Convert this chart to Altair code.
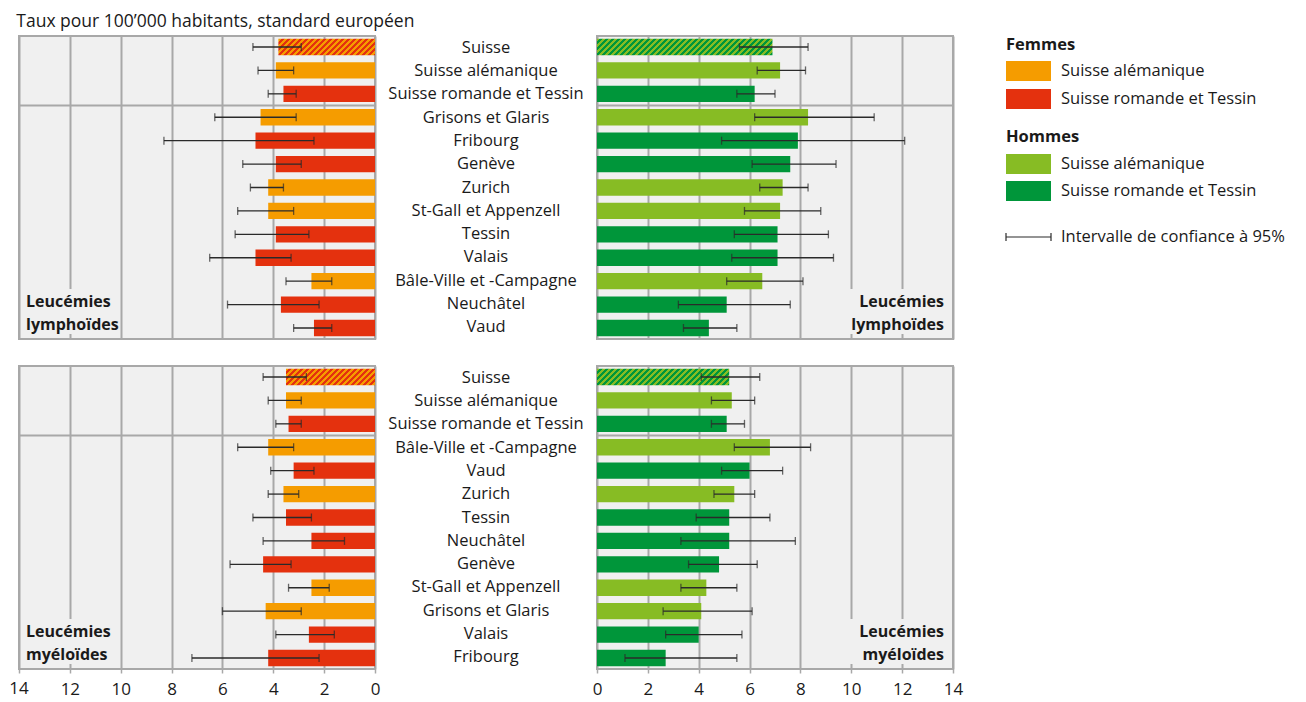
import math
import altair as alt
import pandas as pd

# ---------------- data ----------------
regions_lym = ["Suisse", "Suisse alémanique", "Suisse romande et Tessin", "Grisons et Glaris",
               "Fribourg", "Genève", "Zurich", "St-Gall et Appenzell", "Tessin", "Valais",
               "Bâle-Ville et -Campagne", "Neuchâtel", "Vaud"]
groups_lym = ["CH", "SA", "SRT", "SA", "SRT", "SRT", "SA", "SA", "SRT", "SRT", "SA", "SRT", "SRT"]
lym_f = [3.8, 3.9, 3.6, 4.5, 4.7, 3.9, 4.2, 4.2, 3.9, 4.7, 2.5, 3.7, 2.4]
lym_f_lo = [2.9, 3.2, 3.1, 3.1, 2.4, 2.9, 3.6, 3.2, 2.6, 3.3, 1.7, 2.2, 1.7]
lym_f_hi = [4.8, 4.6, 4.2, 6.3, 8.3, 5.2, 4.9, 5.4, 5.5, 6.5, 3.5, 5.8, 3.2]
lym_m = [6.9, 7.2, 6.2, 8.3, 7.9, 7.6, 7.3, 7.2, 7.1, 7.1, 6.5, 5.1, 4.4]
lym_m_lo = [5.6, 6.3, 5.5, 6.2, 4.9, 6.1, 6.4, 5.8, 5.4, 5.3, 5.1, 3.2, 3.4]
lym_m_hi = [8.3, 8.2, 7.0, 10.9, 12.1, 9.4, 8.3, 8.8, 9.1, 9.3, 8.1, 7.6, 5.5]

regions_mye = ["Suisse", "Suisse alémanique", "Suisse romande et Tessin", "Bâle-Ville et -Campagne",
               "Vaud", "Zurich", "Tessin", "Neuchâtel", "Genève", "St-Gall et Appenzell",
               "Grisons et Glaris", "Valais", "Fribourg"]
groups_mye = ["CH", "SA", "SRT", "SA", "SRT", "SA", "SRT", "SRT", "SRT", "SA", "SA", "SRT", "SRT"]
mye_f = [3.5, 3.5, 3.4, 4.2, 3.2, 3.6, 3.5, 2.5, 4.4, 2.5, 4.3, 2.6, 4.2]
mye_f_lo = [2.7, 2.9, 2.9, 3.2, 2.4, 3.0, 2.5, 1.2, 3.3, 1.8, 2.9, 1.6, 2.2]
mye_f_hi = [4.4, 4.2, 3.9, 5.4, 4.1, 4.2, 4.8, 4.4, 5.7, 3.4, 6.0, 3.9, 7.2]
mye_m = [5.2, 5.3, 5.1, 6.8, 6.0, 5.4, 5.2, 5.2, 4.8, 4.3, 4.1, 4.0, 2.7]
mye_m_lo = [4.1, 4.5, 4.5, 5.4, 4.9, 4.6, 3.9, 3.3, 3.6, 3.3, 2.6, 2.7, 1.1]
mye_m_hi = [6.4, 6.2, 5.8, 8.4, 7.3, 6.2, 6.8, 7.8, 6.3, 5.5, 6.1, 5.7, 5.5]

legend_groups = ["Suisse alémanique", "Suisse romande et Tessin"]
tick_values = [0, 2, 4, 6, 8, 10, 12, 14]

# ---------------- styles ----------------
FONT = "Open Sans"
ORANGE, RED = "#F59C00", "#E4310E"
LGREEN, DGREEN = "#87BC24", "#00963A"
BG, GRID = "#F0F0F0", "#A8A8A8"
TXT = "#1a1a1a"
EB = "#2a2a2a"
FS = 16.5
AFS = 17
PW, PH, MIDW = 356, 303, 222
PI, PO = 0.3, 0.12
STEP = PH / (13 - PI + 2 * PO)
BAR_H = STEP * (1 - PI)


def stripes(value, c1, c2, period=6.0):
    w = value * PW / 14.0
    h = BAR_H
    L = w + h
    half = period / 2.0
    n = int(math.ceil(L / half))
    stops = []
    for i in range(n):
        c = c1 if i % 2 == 0 else c2
        stops.append({"offset": min(i * half / L, 1.0), "color": c})
        stops.append({"offset": min((i + 1) * half / L, 1.0), "color": c})
    den = w * w + h * h
    return {"gradient": "linear", "x1": 0, "y1": 0,
            "x2": L * w / den, "y2": L * h / den, "stops": stops}


def panel(regions, groups, val, lo, hi, side, colors, label, bottom):
    df = pd.DataFrame({"region": regions, "group": groups, "value": val, "lo": lo, "hi": hi})
    xscale = alt.Scale(domain=[0, 14], reverse=(side == "left"), nice=False)
    if bottom:
        # the outermost label ("14" of the left panel) is drawn as a text mark below
        lab_expr = "datum.value == 14 ? '' : datum.label" if side == "left" else "datum.label"
        axis = alt.Axis(values=tick_values, grid=True, gridColor=GRID, gridWidth=2, domain=False,
                        ticks=True, tickColor=GRID, tickSize=4, tickWidth=1.5,
                        labelFont=FONT, labelFontSize=AFS, labelColor=TXT, labelPadding=8,
                        labelFlush=False, labelExpr=lab_expr, title=None)
    else:
        axis = alt.Axis(values=tick_values, grid=True, gridColor=GRID, gridWidth=2, domain=False,
                        ticks=False, labels=False, title=None)
    y = alt.Y("region:N", sort=regions, axis=None,
              scale=alt.Scale(paddingInner=PI, paddingOuter=PO))
    base = alt.Chart(df)
    bars = base.transform_filter("datum.group != 'CH'").mark_bar().encode(
        x=alt.X("value:Q", scale=xscale, axis=axis), y=y,
        color=alt.Color("group:N", scale=alt.Scale(domain=["SA", "SRT"], range=colors), legend=None))
    hatch = base.transform_filter("datum.group == 'CH'").mark_bar(
        fill=stripes(val[0], colors[0], colors[1])).encode(x=alt.X("value:Q"), y=y)
    err = base.mark_rule(color=EB, strokeWidth=1.3).encode(x="lo:Q", x2="hi:Q", y=y)
    cap_lo = base.mark_tick(color=EB, thickness=1.3, size=8).encode(x="lo:Q", y=y)
    cap_hi = base.mark_tick(color=EB, thickness=1.3, size=8).encode(x="hi:Q", y=y)
    one = pd.DataFrame({"a": [0]})
    sep = alt.Chart(one).mark_rule(color=GRID, strokeWidth=2).encode(
        x=alt.value(0), x2=alt.value(PW), y=alt.value(STEP * (PO + 3) - STEP * PI / 2))
    layers = [sep]
    if side == "left":
        box = alt.Chart(one).mark_rect(color=BG).encode(
            x=alt.value(2), x2=alt.value(100), y=alt.value(253), y2=alt.value(PH - 5))
        txt = alt.Chart(one).mark_text(text=label, align="left", baseline="alphabetic",
                                       font=FONT, fontSize=16, fontWeight="bold", color=TXT,
                                       lineHeight=23).encode(x=alt.value(7), y=alt.value(271))
    else:
        box = alt.Chart(one).mark_rect(color=BG).encode(
            x=alt.value(244), x2=alt.value(PW - 2), y=alt.value(253), y2=alt.value(PH - 5))
        txt = alt.Chart(one).mark_text(text=label, align="right", baseline="alphabetic",
                                       font=FONT, fontSize=16, fontWeight="bold", color=TXT,
                                       lineHeight=23).encode(x=alt.value(PW - 9), y=alt.value(271))
    layers += [box, bars, hatch, err, cap_lo, cap_hi, txt]
    if bottom and side == "left":
        edge = alt.Chart(pd.DataFrame({"v": [tick_values[-1]]})).mark_text(
            font=FONT, fontSize=AFS, color=TXT, align="center", baseline="top").encode(
            x=alt.X("v:Q"), y=alt.value(PH + 12), text=alt.Text("v:Q"))
        layers.append(edge)
    return alt.layer(*layers).properties(
        width=PW, height=PH,
        view=alt.ViewBackground(fill=BG, stroke=GRID, strokeWidth=2))


def middle(regions):
    df = pd.DataFrame({"region": regions})
    return alt.Chart(df).mark_text(font=FONT, fontSize=FS, color=TXT, align="center").encode(
        y=alt.Y("region:N", sort=regions, axis=None,
                scale=alt.Scale(paddingInner=PI, paddingOuter=PO)),
        x=alt.value(MIDW / 2), text="region:N").properties(
        width=MIDW, height=PH, view=alt.ViewBackground(fill="transparent", stroke="transparent"))


F_COLS = [ORANGE, RED]
M_COLS = [LGREEN, DGREEN]
lab_l = ["Leucémies", "lymphoïdes"]
lab_m = ["Leucémies", "myéloïdes"]

# ---------------- legend ----------------
one = pd.DataFrame({"a": [0]})
LX, TX = 53, 108
leg_layers = []


def ltext(t, y, bold=False, x=TX):
    return alt.Chart(one).mark_text(text=t, align="left", baseline="middle", font=FONT, fontSize=FS,
                                    fontWeight="bold" if bold else "normal", color=TXT).encode(
        x=alt.value(x), y=alt.value(y))


def lrect(c, y):
    return alt.Chart(one).mark_rect(color=c).encode(
        x=alt.value(LX), x2=alt.value(LX + 45), y=alt.value(y - 10), y2=alt.value(y + 10))


leg_layers.append(ltext("Femmes", 9, True, LX))
leg_layers.append(lrect(ORANGE, 35))
leg_layers.append(ltext(legend_groups[0], 35))
leg_layers.append(lrect(RED, 63))
leg_layers.append(ltext(legend_groups[1], 63))
leg_layers.append(ltext("Hommes", 101, True, LX))
leg_layers.append(lrect(LGREEN, 128))
leg_layers.append(ltext(legend_groups[0], 128))
leg_layers.append(lrect(DGREEN, 155))
leg_layers.append(ltext(legend_groups[1], 155))
leg_layers.append(alt.Chart(one).mark_rule(color=EB, strokeWidth=1.2).encode(
    x=alt.value(LX), x2=alt.value(LX + 45), y=alt.value(201)))
for cx in (LX, LX + 45):
    leg_layers.append(alt.Chart(one).mark_rule(color=EB, strokeWidth=1.2).encode(
        x=alt.value(cx), y=alt.value(197), y2=alt.value(205)))
leg_layers.append(ltext("Intervalle de confiance à 95%", 201))
legend = alt.layer(*leg_layers).properties(
    width=330, height=PH, view=alt.ViewBackground(fill="transparent", stroke="transparent"))

chart = alt.concat(
    panel(regions_lym, groups_lym, lym_f, lym_f_lo, lym_f_hi, "left", F_COLS, lab_l, False),
    middle(regions_lym),
    panel(regions_lym, groups_lym, lym_m, lym_m_lo, lym_m_hi, "right", M_COLS, lab_l, False),
    legend,
    panel(regions_mye, groups_mye, mye_f, mye_f_lo, mye_f_hi, "left", F_COLS, lab_m, True),
    middle(regions_mye),
    panel(regions_mye, groups_mye, mye_m, mye_m_lo, mye_m_hi, "right", M_COLS, lab_m, True),
    columns=4, spacing=alt.RowColnumber(row=27, column=0), bounds="flush",
).resolve_scale(color="independent").properties(
    title=alt.TitleParams("Taux pour 100’000 habitants, standard européen", anchor="start",
                          font=FONT, fontSize=17.5, fontWeight="normal", color=TXT, offset=5,
                          dx=8),
    padding={"left": 0, "top": 4, "right": 2, "bottom": 2},
).configure_view(strokeWidth=0)

chart.save("out.html", embed_options={"renderer": "svg", "actions": False})
